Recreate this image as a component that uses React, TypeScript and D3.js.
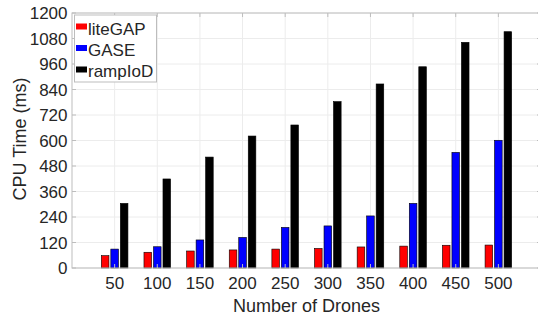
import * as d3 from "d3";

const drones = [50, 100, 150, 200, 250, 300, 350, 400, 450, 500];
const liteGAP = [58, 74, 80, 85, 89, 92, 99, 103, 107, 108];
const gase = [89, 100, 132, 144, 191, 198, 245, 304, 544, 601];
const rampIoD = [304, 419, 522, 621, 673, 783, 866, 947, 1062, 1112];
const yTicks = [0, 120, 240, 360, 480, 600, 720, 840, 960, 1080, 1200];

const seriesNames = ["liteGAP", "GASE", "rampIoD"];
const seriesColors = ["#ff0000", "#0000ff", "#000000"];
const seriesValues = [liteGAP, gase, rampIoD];

export default function App() {
  const width = 538;
  const height = 318;
  const left = 72;
  const right = 541;
  const top = 13;
  const bottom = 268;

  const x = d3.scaleLinear().domain([0, 550]).range([left, right]);
  const y = d3.scaleLinear().domain([0, 1200]).range([bottom, top]);
  const offset = d3.scaleLinear().domain([0, 2]).range([-9.5, 9.5]);
  const barW = 7.6;
  const font = "Liberation Sans, Arial, sans-serif";
  const textColor = "#262626";

  return (
    <svg
      width={width}
      height={height}
      style={{ position: "absolute", left: 0, top: 0, background: "#fff" }}
      fontFamily={font}
    >
      {/* grid */}
      {yTicks.map((t) => (
        <line key={`gy${t}`} x1={left} x2={right} y1={y(t)} y2={y(t)} stroke="#ececec" strokeWidth={1} />
      ))}
      {drones.map((d) => (
        <line key={`gx${d}`} x1={x(d)} x2={x(d)} y1={top} y2={bottom} stroke="#ececec" strokeWidth={1} />
      ))}
      {/* bars */}
      {seriesValues.map((vals, si) =>
        vals.map((v, i) => (
          <rect
            key={`b${si}-${i}`}
            x={x(drones[i]) + offset(si) - barW / 2}
            y={y(v)}
            width={barW}
            height={y(0) - y(v)}
            fill={seriesColors[si]}
            stroke="#000"
            strokeWidth={0.6}
          />
        ))
      )}
      {/* axes box */}
      <rect x={left} y={top} width={right - left} height={bottom - top} fill="none" stroke="#bdbdbd" strokeWidth={1} />
      {drones.map((d) => (
        <g key={`tx${d}`}>
          <line x1={x(d)} x2={x(d)} y1={bottom} y2={bottom - 4} stroke="#bdbdbd" />
          <line x1={x(d)} x2={x(d)} y1={top} y2={top + 4} stroke="#bdbdbd" />
          <text x={x(d)} y={bottom + 21} textAnchor="middle" fontSize={17} fill={textColor}>
            {d}
          </text>
        </g>
      ))}
      {yTicks.map((t) => (
        <g key={`ty${t}`}>
          <line x1={left} x2={left + 4} y1={y(t)} y2={y(t)} stroke="#bdbdbd" />
          <line x1={right} x2={right - 4} y1={y(t)} y2={y(t)} stroke="#bdbdbd" />
          <text x={left - 4.5} y={y(t) + 6} textAnchor="end" fontSize={17} fill={textColor}>
            {t}
          </text>
        </g>
      ))}
      {/* axis labels */}
      <text x={(left + right) / 2} y={bottom + 44} textAnchor="middle" fontSize={18} fill={textColor}>
        Number of Drones
      </text>
      <text
        transform={`translate(26, 139) rotate(-90)`}
        textAnchor="middle"
        fontSize={18}
        fill={textColor}
      >
        CPU Time (ms)
      </text>
      {/* legend */}
      <rect x={74.5} y={15} width={82} height={67} fill="#fff" stroke="#bdbdbd" strokeWidth={1} />
      {seriesNames.map((name, i) => (
        <g key={name}>
          <rect x={76} y={23.5 + i * 21.5} width={11} height={6} fill={seriesColors[i]} />
          <text x={88} y={34.5 + i * 21.3} fontSize={17} fill={textColor}>
            {name}
          </text>
        </g>
      ))}
    </svg>
  );
}
